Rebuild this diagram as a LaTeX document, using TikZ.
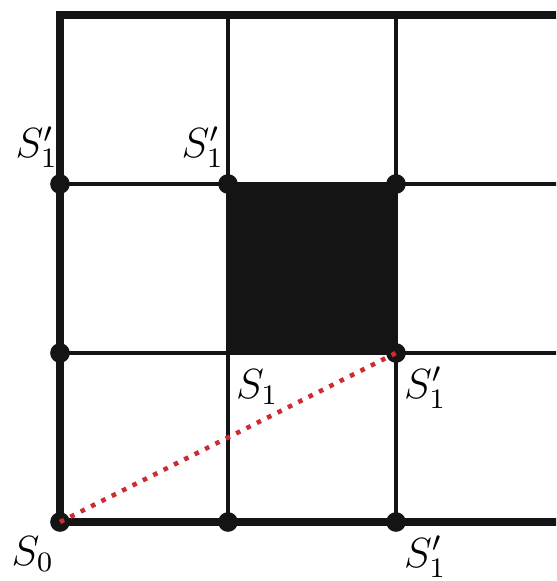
\documentclass[tikz,border=0pt]{standalone}
\usepackage{amsmath,amssymb}
\usepackage{tikz}
\usepackage{xcolor}
\usetikzlibrary{calc,positioning}
\definecolor{gridInk}{RGB}{20,20,20}
\definecolor{pathRed}{RGB}{205,45,50}
\tikzset{
  rimline/.style={draw=gridInk,line width=2.4pt},
  cellline/.style={draw=gridInk,line width=1.1pt},
  sitedot/.style={circle,fill=gridInk,inner sep=0pt,minimum size=5.6pt},
  sitelabel/.style={inner sep=1pt,font=\large},
  hoppath/.style={draw=pathRed,line width=1.3pt,dotted}
}

\begin{document}
\begin{tikzpicture}
  \useasboundingbox (0,0) rectangle (5.56,5.81);
  \clip (0,0) rectangle (5.56,5.81);
  % grid points
  \coordinate (a0) at (0.60,0.59);
  \coordinate (b0) at (2.28,0.59);
  \coordinate (c0) at (3.96,0.59);
  \coordinate (a1) at (0.60,2.28);
  \coordinate (b1) at (2.28,2.28);
  \coordinate (c1) at (3.96,2.28);
  \coordinate (a2) at (0.60,3.97);
  \coordinate (b2) at (2.28,3.97);
  \coordinate (c2) at (3.96,3.97);
  \coordinate (a3) at (0.60,5.66);
  \coordinate (b3) at (2.28,5.66);
  \coordinate (c3) at (3.96,5.66);
  % blocked cell
  \fill[gridInk] (b1) rectangle (c2);
  % inner lines
  \draw[cellline] (b0) -- (b3);
  \draw[cellline] (c0) -- (c3);
  \draw[cellline] (a1) -- (a1 -| 5.6,0);
  \draw[cellline] (a2) -- (a2 -| 5.6,0);
  % outer rim
  \draw[rimline,line join=miter] (a0 -| 5.6,0) -- (a0) -- (a3) -- (a3 -| 5.6,0);
  % sites
  \foreach \p in {a0,b0,c0,a1,c1,a2,b2,c2}
    \node[sitedot] (d\p) at (\p) {};
  \draw[hoppath] (da0.center) -- (dc1.center);
  % labels
  \node[sitelabel,anchor=north east] (ls0) at ($(a0)+(-0.02,-0.1)$) {$S_0$};
  \node[sitelabel,anchor=north west] (ls1) at ($(b1)+(0.04,-0.12)$) {$S_1$};
  \node[sitelabel,anchor=north west] (lc1) at ($(c1)+(0.04,-0.1)$) {$S_1'$};
  \node[sitelabel,anchor=north west] (lc0) at ($(c0)+(0.04,-0.1)$) {$S_1'$};
  \node[sitelabel,anchor=south east] (la2) at ($(a2)+(0.02,0.12)$) {$S_1'$};
  \node[sitelabel,anchor=south east] (lb2) at ($(b2)+(0.0,0.12)$) {$S_1'$};
\end{tikzpicture}
\end{document}
